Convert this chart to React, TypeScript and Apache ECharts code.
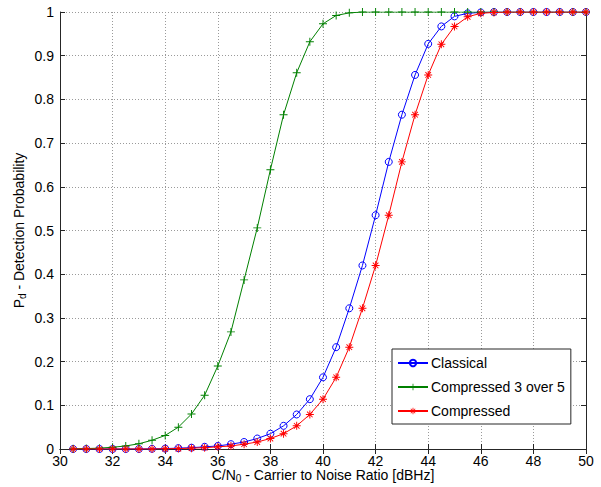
import React, { useEffect, useRef } from "react";
import * as echarts from "echarts";

const xValues = [30.5, 31, 31.5, 32, 32.5, 33, 33.5, 34, 34.5, 35, 35.5, 36, 36.5, 37, 37.5, 38, 38.5, 39, 39.5, 40,
  40.5, 41, 41.5, 42, 42.5, 43, 43.5, 44, 44.5, 45, 45.5, 46, 46.5, 47, 47.5, 48, 48.5, 49, 49.5, 50];

const classical = [0, 0, 0, 0, 0, 0, 0.0005, 0.001, 0.002, 0.003, 0.005, 0.007, 0.011, 0.016, 0.024, 0.035, 0.053, 0.079, 0.114, 0.164,
  0.233, 0.322, 0.42, 0.535, 0.657, 0.765, 0.856, 0.927, 0.967, 0.99, 0.997, 0.999, 1, 1, 1, 1, 1, 1, 1, 1];

const compressed35 = [0.0005, 0.001, 0.002, 0.004, 0.007, 0.012, 0.02, 0.031, 0.05, 0.08, 0.123, 0.19, 0.268, 0.387, 0.506, 0.639, 0.765, 0.861, 0.932, 0.973,
  0.992, 0.998, 1, 1, 1, 1, 1, 1, 1, 1, 1, 1, 1, 1, 1, 1, 1, 1, 1, 1];

const compressed = [0, 0, 0, 0, 0, 0, 0, 0.0005, 0.001, 0.002, 0.003, 0.005, 0.007, 0.011, 0.016, 0.024, 0.035, 0.053, 0.079, 0.114,
  0.164, 0.233, 0.322, 0.42, 0.535, 0.657, 0.765, 0.856, 0.926, 0.967, 0.989, 0.997, 0.999, 1, 1, 1, 1, 1, 1, 1];

const seriesNames = ["Classical", "Compressed 3 over 5", "Compressed"];

const PLUS = "path://M-0.12,-1L0.12,-1L0.12,1L-0.12,1ZM-1,-0.12L1,-0.12L1,0.12L-1,0.12Z";
const STAR =
  "path://M-0.12,-1L0.12,-1L0.12,1L-0.12,1ZM-1,-0.12L1,-0.12L1,0.12L-1,0.12Z" +
  "M-0.78,-0.62L-0.62,-0.78L0.78,0.62L0.62,0.78ZM0.62,-0.78L0.78,-0.62L-0.62,0.78L-0.78,0.62Z";

const FONT = "Liberation Sans, Arial, sans-serif";

const nameRich = {
  a: { fontSize: 14, color: "#000", fontFamily: FONT, lineHeight: 16 },
  s: { fontSize: 10, color: "#000", fontFamily: FONT, lineHeight: 8, verticalAlign: "bottom" },
};

export default function App() {
  const ref = useRef<HTMLDivElement>(null);
  useEffect(() => {
    if (!ref.current) return;
    const chart = echarts.init(ref.current, null, { renderer: "svg" });
    const pair = (ys: number[]) => xValues.map((x, i) => [x, ys[i]]);
    const axisLine = { show: true, lineStyle: { color: "#262626", width: 1 } };
    const gridLine = { show: true, lineStyle: { color: "#9a9a9a", type: [1, 2], width: 1 } };
    chart.setOption({
      animation: false,
      backgroundColor: "#ffffff",
      textStyle: { fontFamily: FONT },
      grid: { left: 60, right: 15, top: 12, bottom: 38, containLabel: false, outerBoundsMode: "none" },
      legend: {
        orient: "vertical",
        left: 392,
        top: 349,
        data: seriesNames,
        backgroundColor: "#ffffff",
        borderColor: "#262626",
        borderWidth: 1,
        borderRadius: 0,
        padding: [7, 6, 6, 5],
        itemGap: 10,
        itemWidth: 30,
        itemHeight: 8,
        textStyle: { fontSize: 14, color: "#000", fontFamily: FONT, padding: [0, 0, 0, -2] },
      },
      xAxis: [
        {
          type: "value",
          min: 30,
          max: 50,
          interval: 2,
          position: "bottom",
          axisLine,
          axisTick: { show: true, inside: true, length: 5, lineStyle: { color: "#262626" } },
          axisLabel: { fontSize: 14, color: "#000", margin: 5, fontFamily: FONT },
          splitLine: gridLine,
          name: "{a|C/N}{s|0}{a| - Carrier to Noise Ratio [dBHz]}",
          nameLocation: "middle",
          nameGap: 18,
          nameMoveOverlap: false,
          nameTextStyle: { rich: nameRich },
        },
        {
          type: "value",
          min: 30,
          max: 50,
          interval: 2,
          position: "top",
          axisLine,
          axisTick: { show: true, inside: true, length: 5, lineStyle: { color: "#262626" } },
          axisLabel: { show: false },
          splitLine: { show: false },
        },
      ],
      yAxis: [
        {
          type: "value",
          min: 0,
          max: 1,
          interval: 0.1,
          position: "left",
          axisLine,
          axisTick: { show: true, inside: true, length: 5, lineStyle: { color: "#262626" } },
          axisLabel: {
            fontSize: 14,
            color: "#000",
            margin: 6,
            fontFamily: FONT,
            formatter: (v: number) => String(Math.round(v * 10) / 10),
          },
          splitLine: gridLine,
          name: "{a|P}{s|d}{a| - Detection Probability}",
          nameLocation: "middle",
          nameRotate: 90,
          nameGap: 33,
          nameMoveOverlap: false,
          nameTextStyle: { rich: nameRich },
        },
        {
          type: "value",
          min: 0,
          max: 1,
          interval: 0.1,
          position: "right",
          axisLine,
          axisTick: { show: true, inside: true, length: 5, lineStyle: { color: "#262626" } },
          axisLabel: { show: false },
          splitLine: { show: false },
        },
      ],
      series: [
        {
          name: seriesNames[0],
          type: "line",
          data: pair(classical),
          symbol: "circle",
          symbolSize: 7,
          showAllSymbol: true,
          lineStyle: { color: "#0000ff", width: 1 },
          itemStyle: { color: "rgba(0,0,0,0)", borderColor: "#0000ff", borderWidth: 1 },
          z: 2,
        },
        {
          name: seriesNames[1],
          type: "line",
          data: pair(compressed35),
          symbol: PLUS,
          symbolSize: 8,
          showAllSymbol: true,
          lineStyle: { color: "#008000", width: 1 },
          itemStyle: { color: "#008000", borderWidth: 0 },
          z: 3,
        },
        {
          name: seriesNames[2],
          type: "line",
          data: pair(compressed),
          symbol: STAR,
          symbolSize: 8,
          showAllSymbol: true,
          lineStyle: { color: "#ff0000", width: 1 },
          itemStyle: { color: "#ff0000", borderWidth: 0 },
          z: 4,
        },
      ],
    });
    return () => chart.dispose();
  }, []);
  return (
    <div
      ref={ref}
      style={{ position: "absolute", left: 0, top: 0, width: 601, height: 487, background: "#fff" }}
    />
  );
}
